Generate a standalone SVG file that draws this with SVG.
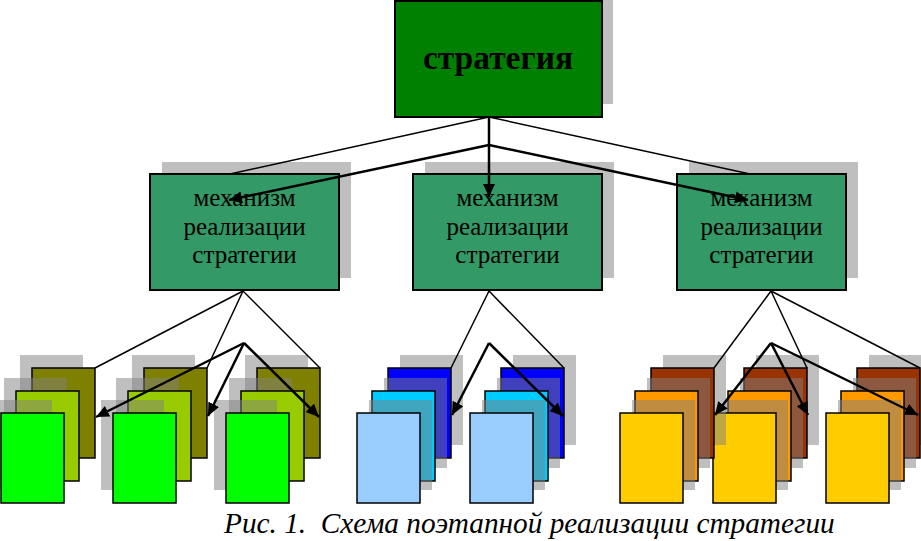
<svg xmlns="http://www.w3.org/2000/svg" width="921" height="541" viewBox="0 0 921 541">
<style>
.sh{fill:#808080;fill-opacity:.5;stroke:none}
.bx{stroke:#000;stroke-width:2}
.cd{stroke:#000;stroke-width:1.5}
.t1{font-family:"Liberation Serif","Times New Roman",serif;font-weight:bold;font-size:33.5px;fill:#000;text-anchor:middle}
.t2{font-family:"Liberation Serif","Times New Roman",serif;font-size:25px;fill:#000;text-anchor:middle}
.cap{font-family:"Liberation Serif","Times New Roman",serif;font-style:italic;font-size:29.3px;fill:#000;white-space:pre}
.ln{stroke:#000;stroke-width:1.5;fill:none}
.ar{stroke:#000;stroke-width:2.5;fill:none;marker-end:url(#ah)}
.olive{fill:#808000}.lgreen{fill:#99CC00}.bgreen{fill:#00FF00}
.blue{fill:#0000FF}.cyan{fill:#00CCFF}.lblue{fill:#99CCFF}
.brown{fill:#993300}.orange{fill:#FF9900}.yellow{fill:#FFCC00}
</style>
<defs>
<marker id="ah" markerUnits="userSpaceOnUse" markerWidth="14" markerHeight="12" refX="13" refY="6" orient="auto">
<path d="M0,0 L13,6 L0,12 Z" fill="#000"/>
</marker>
</defs>
<rect width="921" height="541" fill="#fff"/>

<g id="strategy">
<rect class="sh" x="406" y="-12" width="207" height="116"/>
<rect class="bx" x="395" y="1" width="207" height="116" fill="#008000"/>
<text class="t1" x="498" y="69">стратегия</text>
</g>

<g id="mech1">
<rect class="sh" x="162" y="162" width="189" height="116"/>
<rect class="bx" x="150" y="174" width="189" height="116" fill="#339966"/>
<text class="t2" x="244.5" y="206">механизм</text>
<text class="t2" x="244.5" y="235">реализации</text>
<text class="t2" x="244.5" y="263">стратегии</text>
</g>
<g id="mech2">
<rect class="sh" x="425" y="162" width="189" height="116"/>
<rect class="bx" x="413" y="174" width="189" height="116" fill="#339966"/>
<text class="t2" x="507.5" y="206">механизм</text>
<text class="t2" x="507.5" y="235">реализации</text>
<text class="t2" x="507.5" y="263">стратегии</text>
</g>
<g id="mech3">
<rect class="sh" x="689" y="162" width="169" height="116"/>
<rect class="bx" x="677" y="174" width="169" height="116" fill="#339966"/>
<text class="t2" x="761.5" y="206">механизм</text>
<text class="t2" x="761.5" y="235">реализации</text>
<text class="t2" x="761.5" y="263">стратегии</text>
</g>

<g id="green1">
<rect class="sh" x="20" y="355" width="63" height="90"/><rect class="cd olive" x="32" y="368" width="63" height="90"/>
<rect class="sh" x="4" y="378" width="63" height="90"/><rect class="cd lgreen" x="16" y="391" width="63" height="90"/>
<rect class="sh" x="-11" y="400" width="63" height="90"/><rect class="cd bgreen" x="1" y="413" width="63" height="90"/>
</g>
<g id="green2">
<rect class="sh" x="132" y="355" width="63" height="90"/><rect class="cd olive" x="144" y="368" width="63" height="90"/>
<rect class="sh" x="116" y="378" width="63" height="90"/><rect class="cd lgreen" x="128" y="391" width="63" height="90"/>
<rect class="sh" x="101" y="400" width="63" height="90"/><rect class="cd bgreen" x="113" y="413" width="63" height="90"/>
</g>
<g id="green3">
<rect class="sh" x="245" y="355" width="63" height="90"/><rect class="cd olive" x="257" y="368" width="63" height="90"/>
<rect class="sh" x="229" y="378" width="63" height="90"/><rect class="cd lgreen" x="241" y="391" width="63" height="90"/>
<rect class="sh" x="214" y="400" width="63" height="90"/><rect class="cd bgreen" x="226" y="413" width="63" height="90"/>
</g>

<g id="blue1">
<rect class="sh" x="400" y="355" width="63" height="90"/><rect class="cd blue" x="388" y="368" width="63" height="90"/>
<rect class="sh" x="384" y="378" width="63" height="90"/><rect class="cd cyan" x="372" y="391" width="63" height="90"/>
<rect class="sh" x="369" y="400" width="63" height="90"/><rect class="cd lblue" x="357" y="413" width="63" height="90"/>
</g>
<g id="blue2">
<rect class="sh" x="513" y="355" width="63" height="90"/><rect class="cd blue" x="501" y="368" width="63" height="90"/>
<rect class="sh" x="497" y="378" width="63" height="90"/><rect class="cd cyan" x="485" y="391" width="63" height="90"/>
<rect class="sh" x="482" y="400" width="63" height="90"/><rect class="cd lblue" x="470" y="413" width="63" height="90"/>
</g>

<g id="orange3">
<rect class="sh" x="869" y="355" width="63" height="90"/><rect class="cd brown" x="857" y="368" width="63" height="90"/>
<rect class="sh" x="853" y="378" width="63" height="90"/><rect class="cd orange" x="841" y="391" width="63" height="90"/>
<rect class="sh" x="838" y="400" width="63" height="90"/><rect class="cd yellow" x="826" y="413" width="63" height="90"/>
</g>
<g id="orange2">
<rect class="sh" x="756" y="355" width="63" height="90"/><rect class="cd brown" x="744" y="368" width="63" height="90"/>
<rect class="sh" x="740" y="378" width="63" height="90"/><rect class="cd orange" x="728" y="391" width="63" height="90"/>
<rect class="sh" x="725" y="400" width="63" height="90"/><rect class="cd yellow" x="713" y="413" width="63" height="90"/>
</g>
<g id="orange1">
<rect class="sh" x="663" y="355" width="63" height="90"/><rect class="cd brown" x="651" y="368" width="63" height="90"/>
<rect class="sh" x="647" y="378" width="63" height="90"/><rect class="cd orange" x="635" y="391" width="63" height="90"/>
<rect class="sh" x="632" y="400" width="63" height="90"/><rect class="cd yellow" x="620" y="413" width="63" height="90"/>
</g>

<g id="connectors">
<line class="ln" x1="489" y1="117" x2="230" y2="174"/>
<line class="ln" x1="489" y1="117" x2="750" y2="174"/>
<line class="ar" x1="489" y1="145" x2="229" y2="200"/>
<line class="ar" x1="489" y1="145" x2="748" y2="200"/>
<line class="ar" x1="489" y1="117" x2="489" y2="197"/>

<line class="ln" x1="243" y1="291" x2="95" y2="368"/>
<line class="ln" x1="243" y1="291" x2="207" y2="368"/>
<line class="ln" x1="243" y1="291" x2="320" y2="368"/>
<line class="ar" x1="244" y1="343" x2="96" y2="417"/>
<line class="ar" x1="244" y1="343" x2="208" y2="416"/>
<line class="ar" x1="244" y1="343" x2="319" y2="417"/>

<line class="ln" x1="489" y1="291" x2="451" y2="368"/>
<line class="ln" x1="489" y1="291" x2="564" y2="368"/>
<line class="ar" x1="489" y1="343" x2="452" y2="415"/>
<line class="ar" x1="489" y1="343" x2="563" y2="416"/>

<line class="ln" x1="771" y1="291" x2="714" y2="368"/>
<line class="ln" x1="771" y1="291" x2="807" y2="368"/>
<line class="ln" x1="771" y1="291" x2="920" y2="368"/>
<line class="ar" x1="771" y1="343" x2="715" y2="415"/>
<line class="ar" x1="771" y1="343" x2="808" y2="415"/>
<line class="ar" x1="771" y1="343" x2="918" y2="415"/>
</g>

<text class="cap" x="224" y="533">Рис. 1.  Схема поэтапной реализации стратегии</text>
</svg>
